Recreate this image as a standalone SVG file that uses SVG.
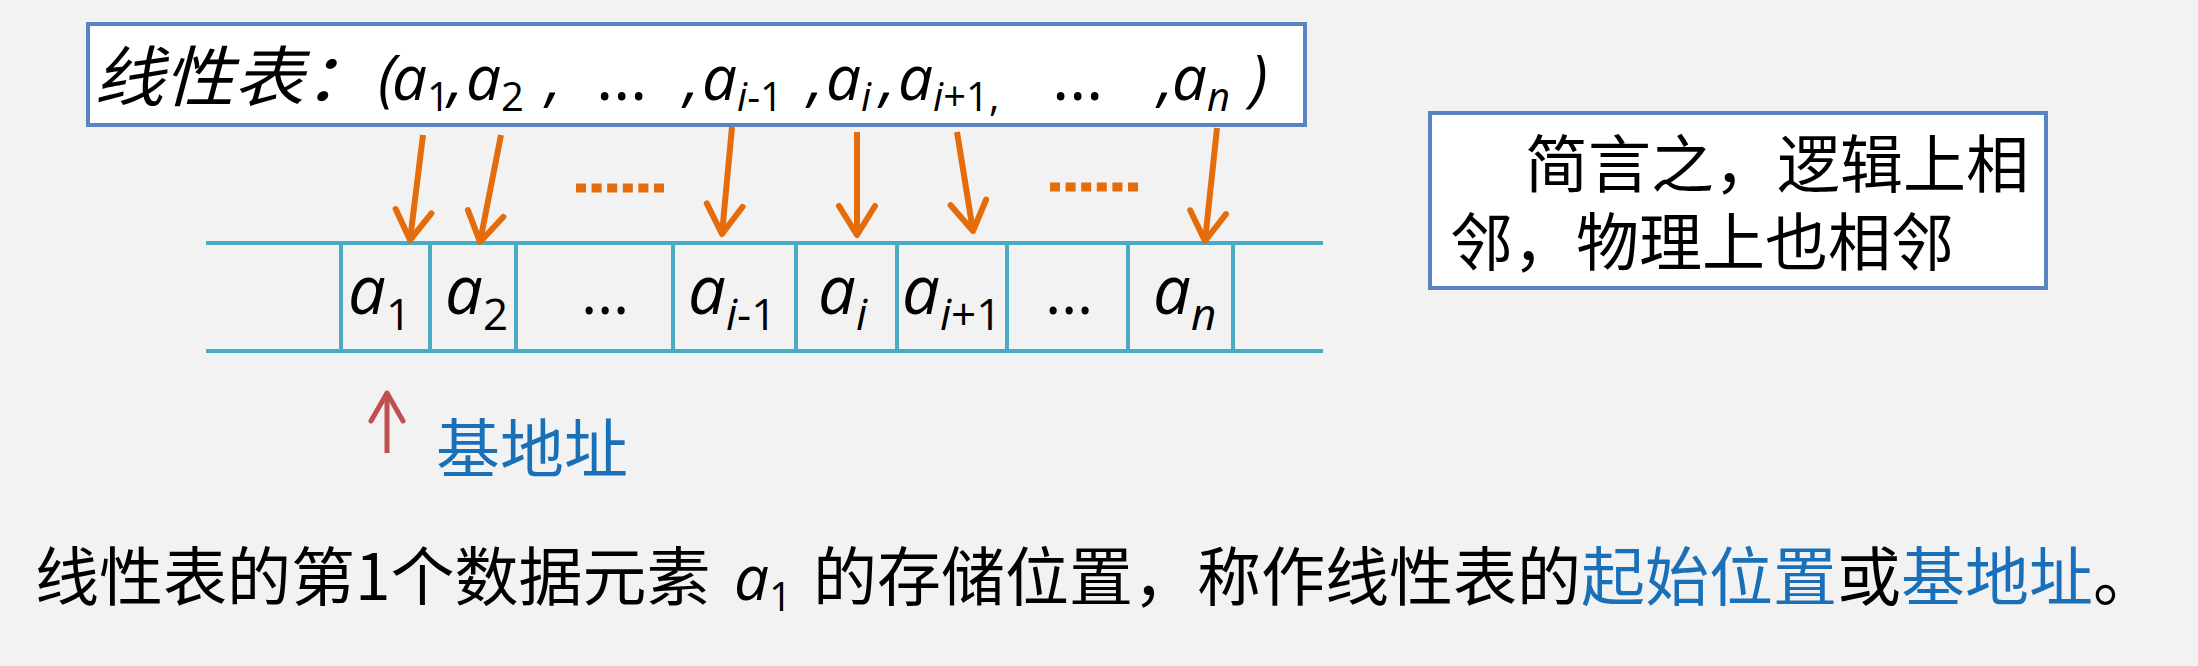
<svg xmlns="http://www.w3.org/2000/svg" width="2198" height="666" viewBox="0 0 2198 666">
<defs>
<style>
.cjk{font-family:"Noto Sans CJK SC","Noto Sans",sans-serif;}
.lat{font-family:"Open Sans","Noto Sans",sans-serif;}
.box{fill:#ffffff;stroke:#5a84bf;stroke-width:4;}
.cell{stroke:#4aabc6;stroke-width:4;fill:none;}
.arr{stroke:#e46c0a;stroke-width:6;fill:none;marker-end:url(#ah);}
.dots{stroke:#e46c0a;stroke-width:9;stroke-dasharray:10 5.6;fill:none;}
.blue{fill:#1a70b8;}
</style>
<marker id="ah" markerUnits="userSpaceOnUse" viewBox="-34 -24 38 48" refX="0" refY="0" markerWidth="38" markerHeight="48" orient="auto" overflow="visible">
<path d="M-29,-18 L0,0 L-29,18" fill="none" stroke="#e46c0a" stroke-width="6" stroke-linecap="round" stroke-linejoin="round"/>
</marker>
<marker id="rh" markerUnits="userSpaceOnUse" viewBox="-34 -20 38 40" refX="0" refY="0" markerWidth="38" markerHeight="40" orient="auto" overflow="visible">
<path d="M-28,-16 L0,0 L-28,16" fill="none" stroke="#c0504d" stroke-width="5" stroke-linecap="round" stroke-linejoin="round"/>
</marker>
</defs>
<rect x="0" y="0" width="2198" height="666" fill="#f2f2f2"/>

<g id="linear-list-box">
<rect class="box" x="88" y="24" width="1217" height="101"/>
<text class="cjk" x="94" y="101" font-size="66" font-style="italic" fill="#000" textLength="280" lengthAdjust="spacingAndGlyphs">线性表：</text>
<g class="lat" font-style="italic" font-size="62" fill="#000">
<text x="378" y="100">(</text>
<text x="392" y="100">a<tspan font-size="40" font-style="normal" dy="11">1</tspan></text>
<text x="448" y="100">,</text>
<text x="466" y="100">a<tspan font-size="40" font-style="normal" dy="11">2</tspan></text>
<text x="546" y="100">,</text>
<text x="596" y="100" font-style="normal" font-size="66">…</text>
<text x="684" y="100">,</text>
<text x="702" y="100">a<tspan font-size="40" dy="11">i</tspan><tspan font-size="40" font-style="normal">-1</tspan></text>
<text x="808" y="100">,</text>
<text x="826" y="100">a<tspan font-size="40" dy="11">i</tspan></text>
<text x="880" y="100">,</text>
<text x="898" y="100">a<tspan font-size="40" dy="11">i</tspan><tspan font-size="40" font-style="normal">+1,</tspan></text>
<text x="1052" y="100" font-style="normal" font-size="66">…</text>
<text x="1158" y="100">,</text>
<text x="1172" y="100">a<tspan font-size="40" dy="11">n</tspan></text>
<text x="1250" y="100">)</text>
</g>
</g>

<g id="summary-box">
<rect class="box" x="1430" y="113" width="616" height="175"/>
<text class="cjk" x="1525" y="187" font-size="63" fill="#000">简言之，逻辑上相</text>
<text class="cjk" x="1450" y="265" font-size="63" fill="#000">邻，物理上也相邻</text>
</g>

<g id="memory-cells">
<line class="cell" x1="206" y1="243" x2="1323" y2="243"/>
<line class="cell" x1="206" y1="351" x2="1323" y2="351"/>
<line class="cell" x1="341" y1="243" x2="341" y2="351"/>
<line class="cell" x1="430" y1="243" x2="430" y2="351"/>
<line class="cell" x1="516" y1="243" x2="516" y2="351"/>
<line class="cell" x1="673" y1="243" x2="673" y2="351"/>
<line class="cell" x1="796" y1="243" x2="796" y2="351"/>
<line class="cell" x1="897" y1="243" x2="897" y2="351"/>
<line class="cell" x1="1007" y1="243" x2="1007" y2="351"/>
<line class="cell" x1="1128" y1="243" x2="1128" y2="351"/>
<line class="cell" x1="1233" y1="243" x2="1233" y2="351"/>
<g class="lat" font-size="67" font-style="italic" fill="#000">
<text x="348" y="314">a<tspan font-size="44" font-style="normal" dy="16">1</tspan></text>
<text x="445" y="314">a<tspan font-size="44" font-style="normal" dy="16">2</tspan></text>
<text x="581" y="314" font-style="normal" font-size="62">…</text>
<text x="688" y="314">a<tspan font-size="44" dy="16">i</tspan><tspan font-size="44" font-style="normal">-1</tspan></text>
<text x="818" y="314">a<tspan font-size="44" dy="16">i</tspan></text>
<text x="902" y="314">a<tspan font-size="44" dy="16">i</tspan><tspan font-size="44" font-style="normal">+1</tspan></text>
<text x="1045" y="314" font-style="normal" font-size="62">…</text>
<text x="1153" y="314">a<tspan font-size="44" dy="16">n</tspan></text>
</g>
</g>

<g id="connectors">
<line class="arr" x1="423" y1="135" x2="410" y2="240"/>
<line class="arr" x1="501" y1="135" x2="480" y2="242"/>
<line class="arr" x1="732" y1="127" x2="722" y2="234"/>
<line class="arr" x1="857" y1="132" x2="857" y2="235"/>
<line class="arr" x1="957" y1="132" x2="973" y2="231"/>
<line class="arr" x1="1217" y1="128" x2="1205" y2="241"/>
<line class="dots" x1="576" y1="188" x2="664" y2="188"/>
<line class="dots" x1="1050" y1="187" x2="1138" y2="187"/>
<line x1="387" y1="453" x2="387" y2="393" stroke="#c0504d" stroke-width="5" marker-end="url(#rh)"/>
</g>

<g id="base-address-label">
<text class="cjk blue" x="436" y="472" font-size="64">基地址</text>
</g>

<g id="caption">
<text class="cjk" y="600" font-size="64" fill="#000"><tspan x="35">线性表的第1个数据元素</tspan><tspan class="lat" x="734" font-size="62" font-style="italic">a</tspan><tspan class="lat" font-size="40" dy="11">1</tspan><tspan x="813" dy="-11">的存储位置，称作线性表的</tspan><tspan class="blue">起始位置</tspan><tspan>或</tspan><tspan class="blue">基地址</tspan><tspan>。</tspan></text>
</g>
</svg>
